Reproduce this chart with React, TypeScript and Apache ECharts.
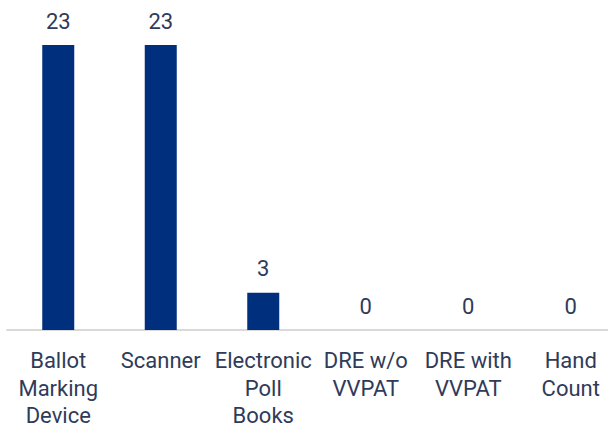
import React, { useEffect, useRef } from "react";
import * as echarts from "echarts";

const categories = [
  "Ballot\nMarking\nDevice",
  "Scanner",
  "Electronic\nPoll\nBooks",
  "DRE w/o\nVVPAT",
  "DRE with\nVVPAT",
  "Hand\nCount",
];
const values = [23, 23, 3, 0, 0, 0];

export default function App() {
  const ref = useRef<HTMLDivElement>(null);
  useEffect(() => {
    if (!ref.current) return;
    const chart = echarts.init(ref.current, null, { renderer: "svg" });
    chart.setOption({
      animation: false,
      grid: {
        left: 7,
        right: 0,
        top: 45,
        bottom: 93,
        containLabel: false,
        outerBoundsMode: "none",
      },
      xAxis: {
        type: "category",
        data: categories,
        axisTick: { show: false },
        axisLine: { lineStyle: { color: "#D9D9D9", width: 2 } },
        axisLabel: {
          interval: 0,
          margin: 17,
          fontSize: 22,
          lineHeight: 27.5,
          color: "#2F3B59",
          fontFamily: "Roboto",
        },
      },
      yAxis: {
        type: "value",
        min: 0,
        max: 23,
        show: false,
        splitLine: { show: false },
      },
      series: [
        {
          type: "bar",
          data: values,
          barWidth: 32,
          itemStyle: { color: "#002F7E" },
          label: {
            show: true,
            position: "top",
            distance: 13,
            fontSize: 22,
            color: "#2F3B59",
            fontFamily: "Roboto",
          },
        },
      ],
    });
    return () => chart.dispose();
  }, []);
  return (
    <div
      style={{
        position: "fixed",
        left: 0,
        top: 0,
        width: 608,
        height: 423,
        overflow: "hidden",
        background: "#fff",
      }}
    >
      <div ref={ref} style={{ width: 622, height: 423 }} />
    </div>
  );
}
